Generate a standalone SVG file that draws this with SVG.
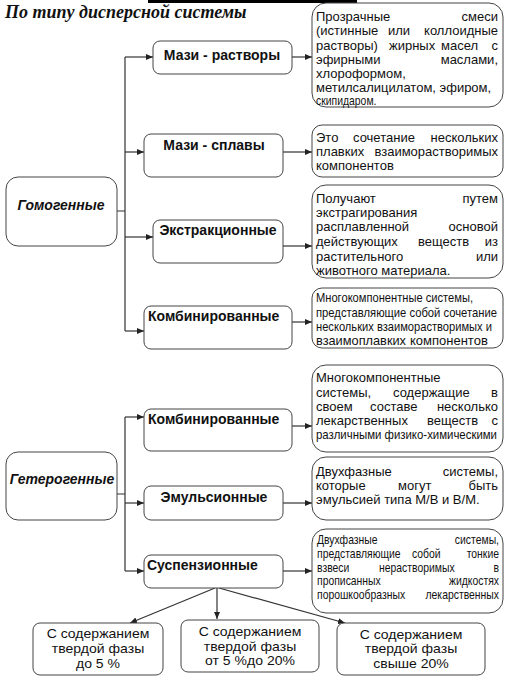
<svg xmlns="http://www.w3.org/2000/svg" width="517" height="681" viewBox="0 0 517 681">
<style>
.box{fill:#fff;stroke:#444;stroke-width:1}
.t{font-family:"Liberation Sans",Arial,sans-serif;font-size:13px;fill:#111}
.b{font-weight:bold;font-size:14px}
.c{text-anchor:middle}
.e{text-anchor:end}
.ln{fill:none;stroke:#333;stroke-width:1.2}
</style>
<defs>
<marker id="ah" markerWidth="8" markerHeight="6" refX="7" refY="3" orient="auto" markerUnits="userSpaceOnUse">
<path d="M0,0 L7,3 L0,6 Z" fill="#222"/>
</marker>
</defs>
<rect width="517" height="681" fill="#fff"/>
<rect x="148" y="0" width="209" height="3" fill="#000"/>
<text x="5" y="18" style="font-family:'Liberation Serif','Times New Roman',serif;font-size:18px;font-weight:bold;font-style:italic;fill:#111">По типу дисперсной системы</text>

<g id="connectors">
<path class="ln" d="M117,211 H125 M125,57 V331"/>
<path class="ln" marker-end="url(#ah)" d="M125,57 H153"/>
<path class="ln" marker-end="url(#ah)" d="M125,152 H144"/>
<path class="ln" marker-end="url(#ah)" d="M125,237 H153"/>
<path class="ln" marker-end="url(#ah)" d="M125,331 H144"/>
<path class="ln" marker-end="url(#ah)" d="M292,57 H312"/>
<path class="ln" marker-end="url(#ah)" d="M283,152 H312"/>
<path class="ln" marker-end="url(#ah)" d="M283,246 H312"/>
<path class="ln" marker-end="url(#ah)" d="M292,322 H312"/>
<path class="ln" d="M117,494 H125 M125,417 V571"/>
<path class="ln" marker-end="url(#ah)" d="M125,417 H144"/>
<path class="ln" marker-end="url(#ah)" d="M125,503 H144"/>
<path class="ln" marker-end="url(#ah)" d="M125,571 H144"/>
<path class="ln" marker-end="url(#ah)" d="M292,426 H312"/>
<path class="ln" marker-end="url(#ah)" d="M283,503 H312"/>
<path class="ln" marker-end="url(#ah)" d="M283,571 H312"/>
<path class="ln" marker-end="url(#ah)" d="M215,588 L130,623"/>
<path class="ln" marker-end="url(#ah)" d="M217,588 V619"/>
<path class="ln" marker-end="url(#ah)" d="M219,588 L345,623"/>
</g>

<g id="gomogennye">
<rect class="box" x="6" y="177" width="111" height="69" rx="12"/>
<text class="t b c" x="61" y="210" font-style="italic">Гомогенные</text>
</g>
<g id="geterogennye">
<rect class="box" x="6" y="452" width="111" height="68" rx="12"/>
<text class="t b c" x="62" y="484" font-style="italic">Гетерогенные</text>
</g>

<g id="mazi-rastvory">
<rect class="box" x="153" y="41" width="139" height="33" rx="7"/>
<text class="t b c" x="222" y="60">Мази - растворы</text>
</g>
<g id="mazi-splavy">
<rect class="box" x="144" y="134" width="139" height="43" rx="7"/>
<text class="t b c" x="214" y="150">Мази - сплавы</text>
</g>
<g id="ekstrakcionnye">
<rect class="box" x="153" y="220" width="130" height="43" rx="7"/>
<text class="t b c" x="218" y="235">Экстракционные</text>
</g>
<g id="kombinirovannye-1">
<rect class="box" x="144" y="306" width="148" height="43" rx="7"/>
<text class="t b" x="148" y="321">Комбинированные</text>
</g>
<g id="kombinirovannye-2">
<rect class="box" x="144" y="409" width="148" height="42" rx="7"/>
<text class="t b" x="148" y="424">Комбинированные</text>
</g>
<g id="emulsionnye">
<rect class="box" x="144" y="486" width="139" height="34" rx="7"/>
<text class="t b c" x="214" y="502">Эмульсионные</text>
</g>
<g id="suspenzionnye">
<rect class="box" x="144" y="555" width="139" height="33" rx="7"/>
<text class="t b" x="147" y="570">Суспензионные</text>
</g>

<g id="desc-1">
<rect class="box" x="312" y="3" width="191" height="104" rx="14"/>
<text class="t" x="316" y="21">Прозрачные</text><text class="t e" x="498" y="21">смеси</text>
<text class="t" x="316" y="35">(истинные</text><text class="t" x="388" y="35">или</text><text class="t e" x="498" y="35">коллоидные</text>
<text class="t" x="316" y="49.5">растворы)</text><text class="t" x="389" y="49.5">жирных</text><text class="t" x="441" y="49.5">масел</text><text class="t e" x="498" y="49.5">с</text>
<text class="t" x="316" y="64">эфирными</text><text class="t e" x="498" y="64">маслами,</text>
<text class="t" x="316" y="78">хлороформом,</text>
<text class="t" x="316" y="92">метилсалицилатом, эфиром,</text>
<text class="t" transform="translate(316,105) scale(0.8,1)">скипидаром.</text>
</g>
<g id="desc-2">
<rect class="box" x="312" y="125" width="191" height="52" rx="10"/>
<text class="t" x="316" y="141.5">Это</text><text class="t" x="353" y="141.5">сочетание</text><text class="t e" x="498" y="141.5">нескольких</text>
<text class="t" x="316" y="155.5">плавких</text><text class="t e" x="498" y="155.5">взаиморастворимых</text>
<text class="t" x="316" y="169.5">компонентов</text>
</g>
<g id="desc-3">
<rect class="box" x="312" y="185" width="191" height="93" rx="14"/>
<text class="t" x="316" y="203">Получают</text><text class="t e" x="498" y="203">путем</text>
<text class="t" x="316" y="217">экстрагирования</text>
<text class="t" x="316" y="231">расплавленной</text><text class="t e" x="498" y="231">основой</text>
<text class="t" x="316" y="246">действующих</text><text class="t" x="418" y="246">веществ</text><text class="t e" x="498" y="246">из</text>
<text class="t" x="316" y="261">растительного</text><text class="t e" x="498" y="261">или</text>
<text class="t" x="316" y="275">животного материала.</text>
</g>
<g id="desc-4">
<rect class="box" x="312" y="288" width="191" height="60" rx="10"/>
<text class="t" x="316" y="302" textLength="157" lengthAdjust="spacingAndGlyphs">Многокомпонентные системы,</text>
<text class="t" x="316" y="317" textLength="181" lengthAdjust="spacingAndGlyphs">представляющие собой сочетание</text>
<text class="t" x="316" y="331" textLength="176" lengthAdjust="spacingAndGlyphs">нескольких взаиморастворимых и</text>
<text class="t" x="316" y="345" textLength="90" lengthAdjust="spacingAndGlyphs">взаимоплавких</text><text class="t" x="410" y="345">компонентов</text>
</g>
<g id="desc-5">
<rect class="box" x="312" y="365" width="191" height="87" rx="14"/>
<text class="t" x="316" y="382">Многокомпонентные</text>
<text class="t" x="316" y="397">системы,</text><text class="t" x="393" y="397">содержащие</text><text class="t e" x="498" y="397">в</text>
<text class="t" x="316" y="411">своем</text><text class="t" x="370" y="411">составе</text><text class="t e" x="498" y="411">несколько</text>
<text class="t" x="316" y="425">лекарственных</text><text class="t" x="427" y="425">веществ</text><text class="t e" x="498" y="425">с</text>
<text class="t" x="316" y="439" textLength="181" lengthAdjust="spacingAndGlyphs">различными физико-химическими</text>
</g>
<g id="desc-6">
<rect class="box" x="312" y="457" width="191" height="63" rx="14"/>
<text class="t" x="316" y="476">Двухфазные</text><text class="t e" x="498" y="476">системы,</text>
<text class="t" x="316" y="490">которые</text><text class="t" x="398" y="490">могут</text><text class="t e" x="498" y="490">быть</text>
<text class="t" x="316" y="504">эмульсией типа М/В и В/М.</text>
</g>
<g id="desc-7">
<rect class="box" x="312" y="529" width="191" height="84" rx="14"/>
<text class="t" transform="translate(317,544) scale(0.8,1)">Двухфазные</text><text class="t e" transform="translate(499,544) scale(0.8,1)">системы,</text>
<text class="t" transform="translate(317,558) scale(0.8,1)">представляющие</text><text class="t" transform="translate(412,558) scale(0.8,1)">собой</text><text class="t e" transform="translate(499,558) scale(0.8,1)">тонкие</text>
<text class="t" transform="translate(317,572) scale(0.8,1)">взвеси</text><text class="t" transform="translate(379,572) scale(0.8,1)">нерастворимых</text><text class="t e" transform="translate(499,572) scale(0.8,1)">в</text>
<text class="t" transform="translate(317,585) scale(0.8,1)">прописанных</text><text class="t e" transform="translate(499,585) scale(0.8,1)">жидкостях</text>
<text class="t" transform="translate(317,599) scale(0.8,1)">порошкообразных</text><text class="t e" transform="translate(499,599) scale(0.8,1)">лекарственных</text>
</g>

<g id="do-5">
<rect class="box" x="33" y="623" width="130" height="52" rx="7"/>
<text class="t c" transform="translate(98,638) scale(1.08,1)">С содержанием</text>
<text class="t c" transform="translate(98,653) scale(1.08,1)">твердой фазы</text>
<text class="t c" transform="translate(98,668) scale(1.08,1)">до 5 %</text>
</g>
<g id="ot-5-do-20">
<rect class="box" x="181" y="620" width="138" height="52" rx="7"/>
<text class="t c" transform="translate(250,636) scale(1.08,1)">С содержанием</text>
<text class="t c" transform="translate(250,651) scale(1.08,1)">твердой фазы</text>
<text class="t c" transform="translate(250,665) scale(1.08,1)">от  5 %до 20%</text>
</g>
<g id="svyshe-20">
<rect class="box" x="337" y="623" width="148" height="52" rx="7"/>
<text class="t c" transform="translate(411,639) scale(1.08,1)">С содержанием</text>
<text class="t c" transform="translate(411,653) scale(1.08,1)">твердой фазы</text>
<text class="t c" transform="translate(411,668) scale(1.08,1)">свыше 20%</text>
</g>
</svg>
